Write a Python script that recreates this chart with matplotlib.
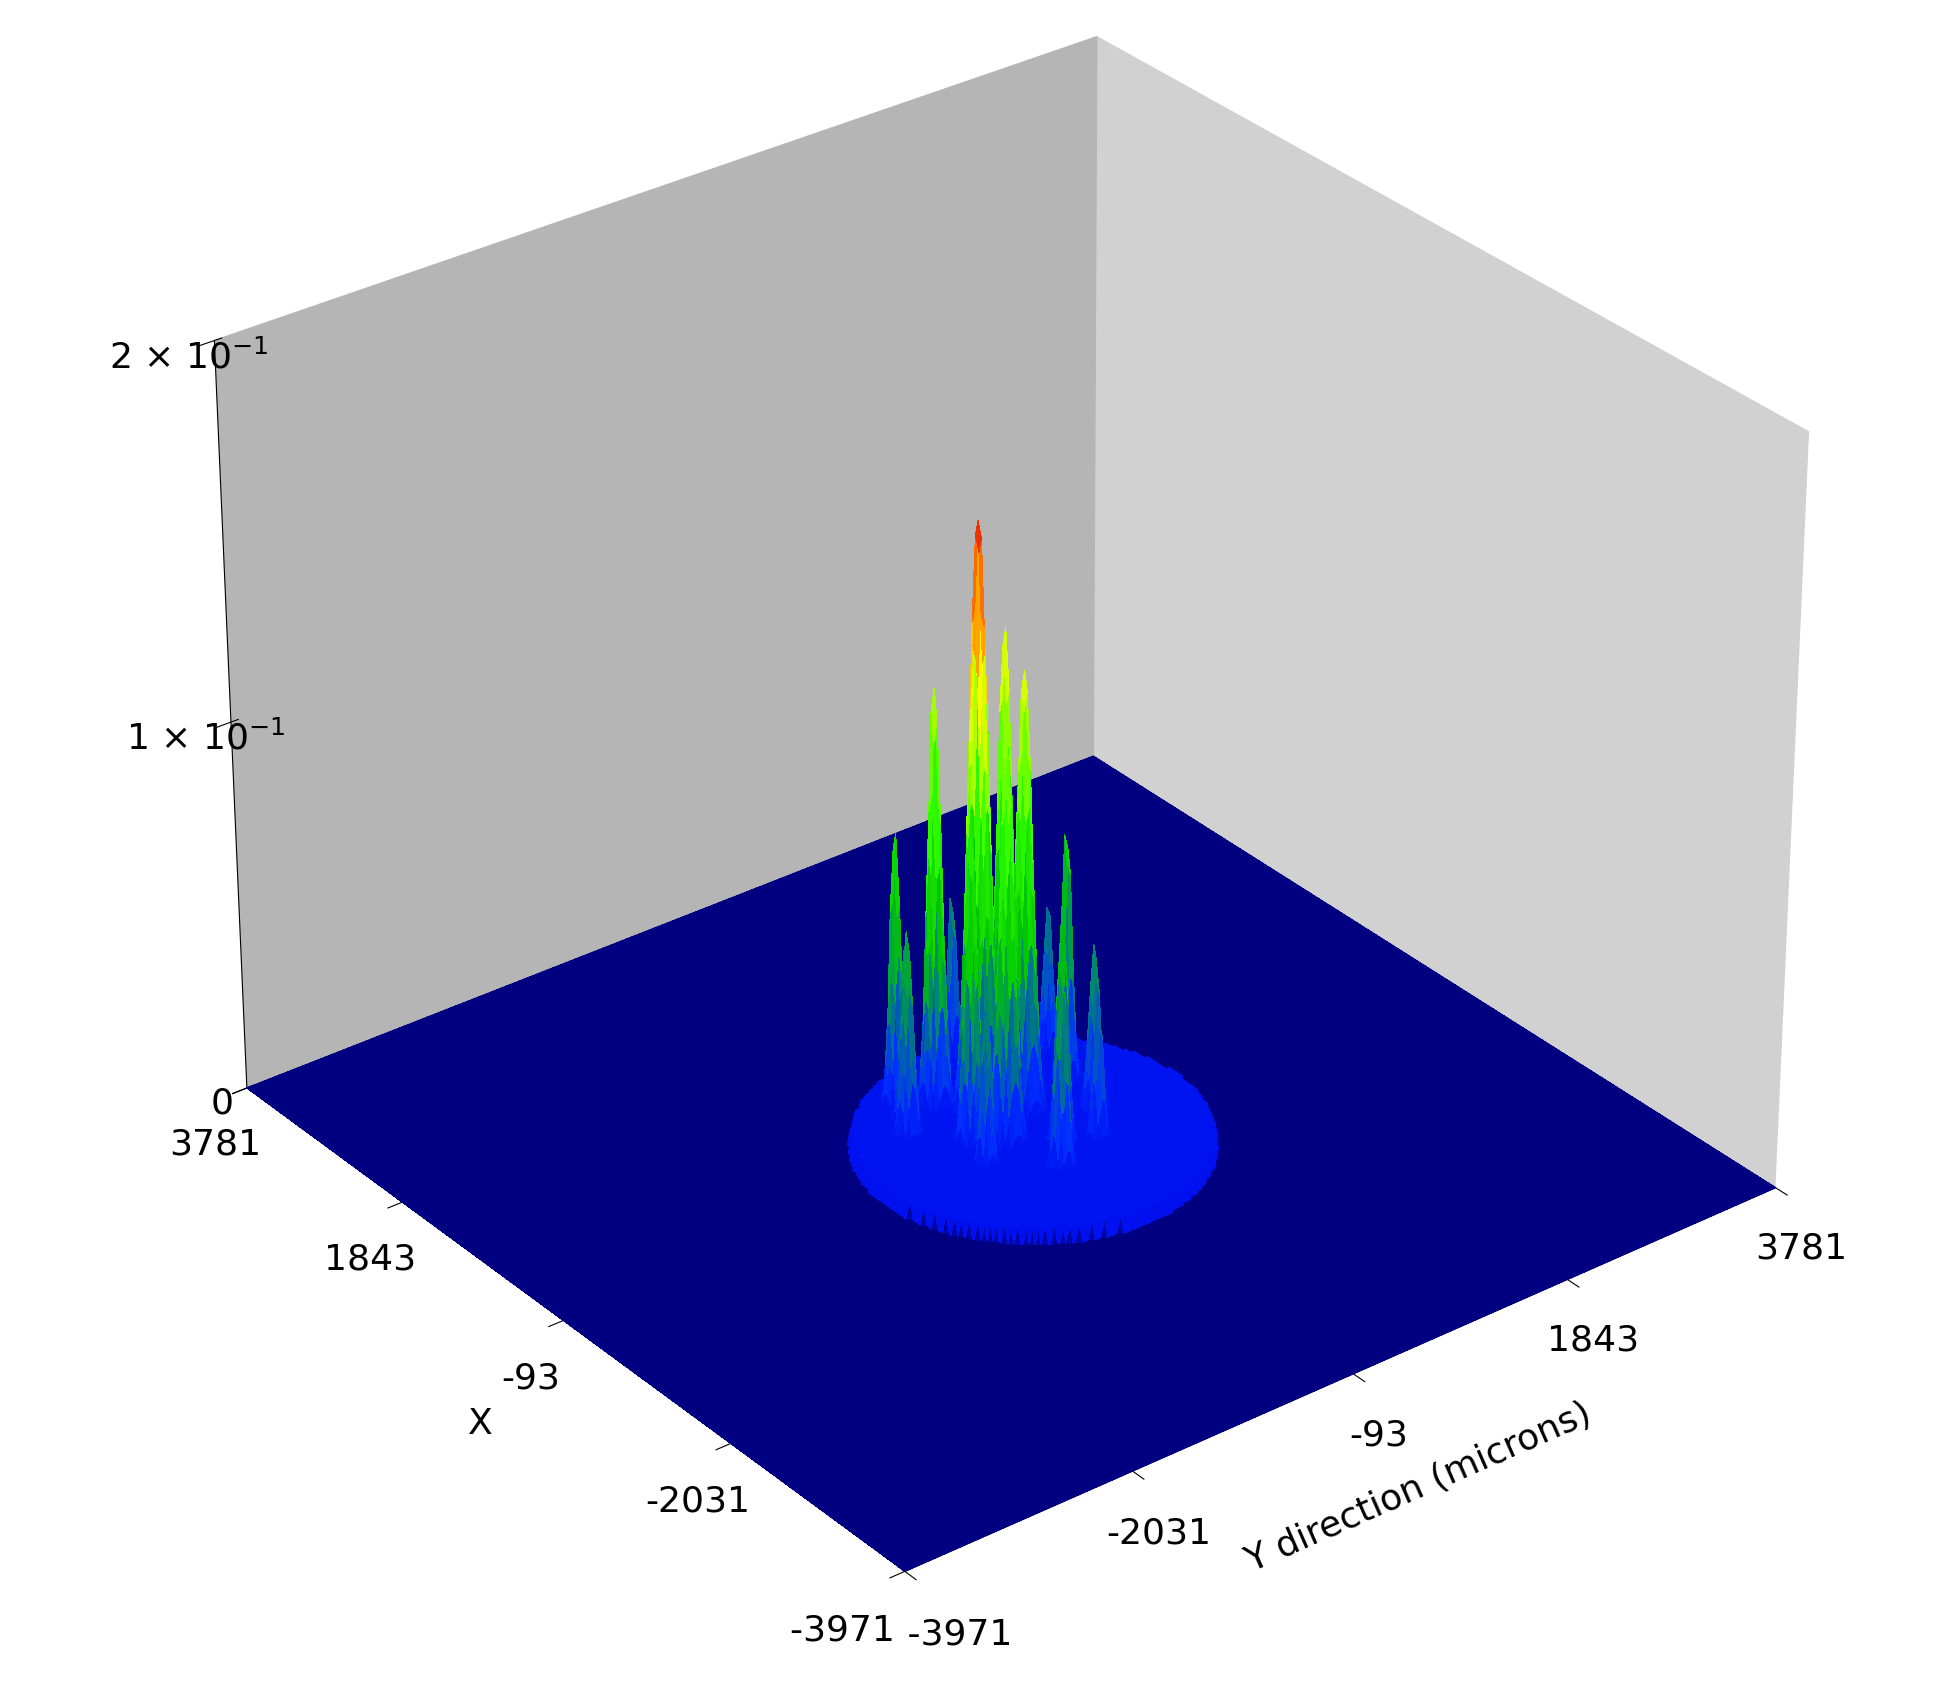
"""
plot.py

3d irradiance spike plot
"""
import matplotlib
matplotlib.use("Agg")
import matplotlib.pyplot as plt
from matplotlib.colors import LinearSegmentedColormap
import numpy as np

plt.rcParams['axes.unicode_minus'] = False

# axis ticks (microns)
ticks = [-3971, -2031, -93, 1843, 3781]
x_labels = ["-3971     ", "-2031", "-93", "1843", "3781"]
y_labels = ["     -3971", "-2031", "-93", "1843", "3781"]
z_ticks = [0, 0.1, 0.2]
z_labels = ["0", "1 × 10$^{-1}$", "2 × 10$^{-1}$"]

# base disk of low irradiance
disk_cx, disk_cy, disk_r, disk_level = -300, 0, 1300, 0.004

# spikes: X, Y position, height, width
spike_x = [200, 350, 0, -250, 450, 700, -500, 150, -750, 650, -300, 400,
           -100, 550, 900, -600, 250, -400]
spike_y = [-100, 250, 150, -200, -300, 500, 100, 650, -100, -500, 550, -600,
           -400, 800, 200, 350, -700, -500]
spike_h = [0.165, 0.13, 0.125, 0.11, 0.12, 0.085, 0.07, 0.075, 0.06, 0.08, 0.05,
           0.055, 0.09, 0.045, 0.05, 0.04, 0.06, 0.05]
spike_w = [70, 55, 60, 55, 50, 45, 40, 40, 40, 40, 40, 40, 45, 35, 35, 35, 40, 35]

irr_cmap = LinearSegmentedColormap.from_list(
    "irr", [(0.0, "#000080"), (0.012, "#0010f0"), (0.1, "#0030ff"),
            (0.35, "#00c800"), (0.55, "#33ff00"), (0.75, "#ffff00"),
            (0.88, "#ff8000"), (1.0, "#e00000")])


def build_surface():
    g = np.linspace(ticks[0], ticks[-1], 260)
    X, Y = np.meshgrid(g, g)
    Z = np.zeros_like(X)
    r = np.hypot(X - disk_cx, Y - disk_cy)
    Z[r < disk_r] = disk_level
    for sx, sy, h, w in zip(spike_x, spike_y, spike_h, spike_w):
        Z = np.maximum(Z, h * np.exp(-((X - sx) ** 2 + (Y - sy) ** 2) / (2 * w ** 2)))
    return X, Y, Z


fig = plt.figure(figsize=(19.59, 16.92), dpi=100)
ax = fig.add_axes([-0.06, -0.03, 1.12, 1.12], projection="3d")

X, Y, Z = build_surface()
# picture Y -> mpl x, picture X -> mpl y
ax.plot_surface(Y, X, Z, cmap=irr_cmap, vmin=0, vmax=0.165, rstride=1, cstride=1,
                linewidth=0, antialiased=False, shade=False)

ax.set_xlim(ticks[0], ticks[-1])
ax.set_ylim(ticks[0], ticks[-1])
ax.set_zlim(0, 0.2)
ax.set_xticks(ticks)
ax.set_xticklabels(y_labels)
ax.set_yticks(ticks)
ax.set_yticklabels(x_labels)
ax.set_zticks(z_ticks)
ax.set_zticklabels(z_labels)
ax.tick_params(labelsize=26)
ax.tick_params(axis='x', pad=18)
ax.tick_params(axis='y', pad=18)
ax.set_xlabel("Y direction (microns)", fontsize=26, labelpad=45)
ax.set_ylabel("X", fontsize=26, labelpad=45)

ax.xaxis.set_pane_color((0.82, 0.82, 0.82, 1))
ax.yaxis.set_pane_color((0.71, 0.71, 0.71, 1))
ax.zaxis.set_pane_color((0.0, 0.0, 0.5, 1))
ax.grid(False)
ax.view_init(elev=30, azim=-128)
ax.set_box_aspect((1, 1, 0.78), zoom=0.92)

fig.savefig("out.png")
